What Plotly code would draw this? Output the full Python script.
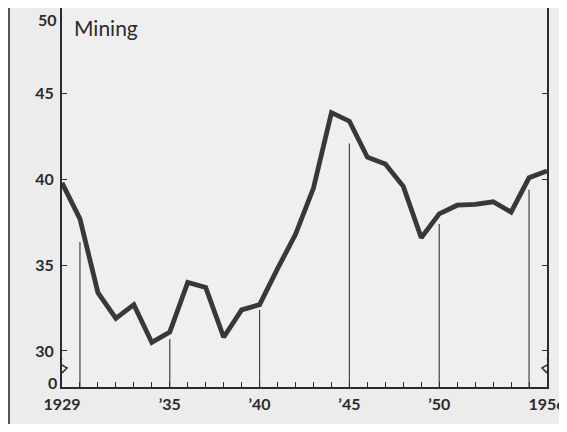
import plotly.graph_objects as go

# ---- data ----
years = list(range(1929, 1957))
values = [39.8, 37.7, 33.4, 31.9, 32.7, 30.5, 31.1, 34.0, 33.7, 30.8,
          32.4, 32.7, 34.8, 36.8, 39.5, 43.9, 43.4, 41.3, 40.9, 39.6,
          36.6, 38.0, 38.5, 38.55, 38.7, 38.1, 40.1, 40.5]
marker_years = [1930, 1935, 1940, 1945, 1950, 1955]
marker_tops = [36.35, 30.7, 32.4, 42.1, 37.4, 39.4]
y_tick_vals = [30, 35, 40, 45]
y_tick_text = ["30", "35", "40", "45"]
x_label_years = [1929, 1935, 1940, 1945, 1950, 1956]
x_label_text = ["1929", "’35", "’40", "’45", "’50", "1956"]
title_text = "Mining"

# ---- layout constants ----
BASE = 27.9   # axis position that stands for 0 (broken scale)
TOP = 50
INK = "#2b2b2b"
BG = "#ececec"
PLOT_BG = "#efefef"
FONT = "Lato"

vx, vy = [], []
for yr, top in zip(marker_years, marker_tops):
    vx += [yr, yr, None]
    vy += [BASE, top, None]

fig = go.Figure()
fig.add_trace(go.Scatter(x=vx, y=vy, mode="lines",
                         line=dict(color="#444444", width=1.2),
                         hoverinfo="skip", showlegend=False))
fig.add_trace(go.Scatter(x=years, y=values, mode="lines",
                         line=dict(color="#383838", width=4.8),
                         showlegend=False))

tickvals_x = years
ticktext_x = [x_label_text[x_label_years.index(y)] if y in x_label_years else "" for y in years]

fig.update_xaxes(range=[1929, 1956], tickvals=tickvals_x, ticktext=ticktext_x,
                 ticks="inside", ticklen=5, tickwidth=1.2, tickcolor=INK,
                 showline=True, linecolor=INK, linewidth=2, mirror=True,
                 showgrid=False, zeroline=False, automargin=False,
                 ticklabeloverflow="allow",
                 tickfont=dict(family=FONT, size=16, color=INK, weight="bold"),
                 ticklabelstandoff=2)
fig.update_yaxes(range=[BASE, TOP], tickvals=y_tick_vals, ticktext=y_tick_text,
                 ticks="inside", ticklen=5, tickwidth=1.2, tickcolor=INK,
                 showline=True, linecolor=INK, linewidth=2, mirror="ticks",
                 showgrid=False, zeroline=False, automargin=False,
                 tickfont=dict(family=FONT, size=16, color=INK, weight="bold"),
                 ticklabelstandoff=3)

# axis-break squiggles on both y axes
px_x = 1 / 17.96
px_y = 1 / 17.2
shapes = []
for xa, sgn in [(1929, 1), (1956, -1)]:
    y0 = 30 - 8 * px_y
    y1 = y0 - 14 * px_y
    shapes.append(dict(type="line", xref="x", yref="y", x0=xa, x1=xa,
                       y0=y0 - 0.5 * px_y, y1=y1 + 0.5 * px_y,
                       line=dict(color=PLOT_BG, width=4), layer="above"))
    path = (f"M {xa},{y0} L {xa - sgn*4*px_x},{y0 - 4*px_y} "
            f"L {xa + sgn*5*px_x},{y0 - 9*px_y} L {xa},{y1}")
    shapes.append(dict(type="path", xref="x", yref="y", path=path,
                       line=dict(color=INK, width=1.5), layer="above"))
# outer frame line at left
shapes.append(dict(type="line", xref="paper", yref="paper", x0=-53/485, x1=-53/485,
                   y0=-0.2, y1=1.05, line=dict(color="#555555", width=2)))

annotations = [
    dict(text=title_text, xref="paper", yref="paper", x=0.02, y=0.995,
         xanchor="left", yanchor="top", yshift=-3, showarrow=False,
         font=dict(family=FONT, size=21, color=INK)),
    dict(text="50", xref="paper", yref="y", x=0, y=TOP, xanchor="right", yanchor="top",
         xshift=-3, yshift=0, showarrow=False,
         font=dict(family=FONT, size=16, color=INK, weight="bold")),
    dict(text="0", xref="paper", yref="y", x=0, y=BASE, xanchor="right", yanchor="middle",
         xshift=-3, yshift=5, showarrow=False,
         font=dict(family=FONT, size=16, color=INK, weight="bold")),
]

fig.update_layout(width=559, height=416,
                  margin=dict(l=54, r=20, t=0, b=37),
                  paper_bgcolor=BG, plot_bgcolor=PLOT_BG,
                  shapes=shapes, annotations=annotations)

fig.write_html("out.html")
